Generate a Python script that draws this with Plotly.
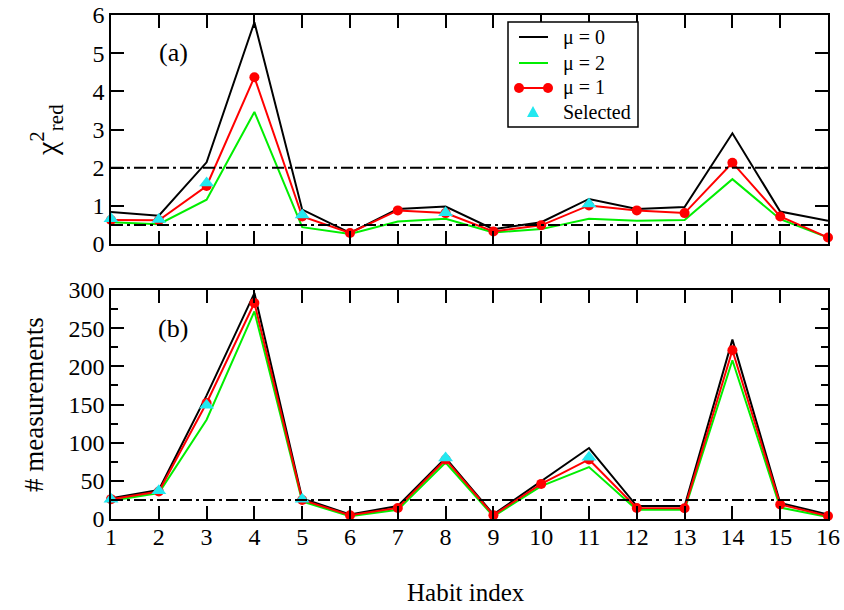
import plotly.graph_objects as go

habit = list(range(1, 17))

# Panel (a): reduced chi-square
chi_mu0 = [0.84, 0.74, 2.14, 5.81, 0.90, 0.29, 0.92, 0.98, 0.39, 0.57, 1.18, 0.92, 0.97, 2.90, 0.85, 0.61]
chi_mu2 = [0.57, 0.52, 1.16, 3.46, 0.44, 0.26, 0.59, 0.66, 0.30, 0.39, 0.66, 0.61, 0.63, 1.70, 0.65, 0.17]
chi_mu1 = [0.63, 0.62, 1.52, 4.37, 0.72, 0.29, 0.88, 0.81, 0.33, 0.49, 1.01, 0.88, 0.81, 2.13, 0.72, 0.17]
sel_idx = [1, 2, 3, 5, 8, 11]
chi_sel = [0.66, 0.64, 1.60, 0.76, 0.82, 1.05]

# Panel (b): number of measurements
n_mu0 = [27, 38, 162, 296, 27, 6, 17, 80, 6, 49, 93, 17, 17, 235, 21, 6]
n_mu2 = [24, 34, 130, 272, 23, 3.5, 12, 74, 3.5, 43, 68, 12, 12, 208, 15, 2.6]
n_mu1 = [26, 36, 152, 283, 25, 5, 14.5, 78, 5, 46, 78, 14.5, 14, 221, 19, 4]
n_sel = [26, 37, 149, 26, 80, 81]

chi_thresholds = [2.0, 0.5]
n_threshold = [25]

legend_labels = ["\u03bc = 0", "\u03bc = 2", "\u03bc = 1", "Selected"]

W, H = 844, 610
FONT = "Liberation Serif, Times New Roman, serif"
BLACK, GREEN, RED, CYAN = "black", "#00ee00", "red", "#22e8f0"

def px(x):
    return x / W

def py(y):
    return 1 - y / H

fig = go.Figure()

def add_panel(xa, ya, y0, y2, y1, ysel):
    fig.add_trace(go.Scatter(x=habit, y=y0, mode="lines", name=legend_labels[0],
                             line=dict(color=BLACK, width=2), xaxis=xa, yaxis=ya,
                             showlegend=False, cliponaxis=False))
    fig.add_trace(go.Scatter(x=habit, y=y2, mode="lines", name=legend_labels[1],
                             line=dict(color=GREEN, width=2), xaxis=xa, yaxis=ya,
                             showlegend=False, cliponaxis=False))
    fig.add_trace(go.Scatter(x=habit, y=y1, mode="lines+markers", name=legend_labels[2],
                             line=dict(color=RED, width=2),
                             marker=dict(color=RED, size=10, symbol="circle"),
                             xaxis=xa, yaxis=ya, showlegend=False, cliponaxis=False))
    fig.add_trace(go.Scatter(x=sel_idx, y=ysel, mode="markers", name=legend_labels[3],
                             marker=dict(color=CYAN, size=13, symbol="triangle-up"),
                             xaxis=xa, yaxis=ya, showlegend=False, cliponaxis=False))

add_panel("x", "y", chi_mu0, chi_mu2, chi_mu1, chi_sel)
add_panel("x2", "y2", n_mu0, n_mu2, n_mu1, n_sel)

dashpat = "12px,4px,3px,4px"
for t in chi_thresholds:
    fig.add_shape(type="line", xref="x", yref="y", x0=1, x1=16, y0=t, y1=t,
                  line=dict(color="black", width=2, dash=dashpat))
for t in n_threshold:
    fig.add_shape(type="line", xref="x2", yref="y2", x0=1, x1=16, y0=t, y1=t,
                  line=dict(color="black", width=2, dash=dashpat))

# Legend box (drawn in paper coordinates, xmgrace style)
fig.add_shape(type="rect", xref="paper", yref="paper",
              x0=px(508), x1=px(638), y0=py(127), y1=py(22),
              line=dict(color="black", width=1.5), fillcolor="white", layer="above")
row_y = [37, 63, 88, 112]
row_col = [BLACK, GREEN, RED]
for yy, col in zip(row_y[:3], row_col):
    fig.add_shape(type="line", xref="paper", yref="paper",
                  x0=px(519), x1=px(548), y0=py(yy), y1=py(yy),
                  line=dict(color=col, width=2), layer="above")
r = 5
for cx in (519, 548):
    fig.add_shape(type="circle", xref="paper", yref="paper",
                  x0=px(cx - r), x1=px(cx + r), y0=py(row_y[2] + r), y1=py(row_y[2] - r),
                  line=dict(color=RED, width=0), fillcolor=RED, layer="above")
tx, ty = 533, row_y[3]
fig.add_shape(type="path", xref="paper", yref="paper",
              path=f"M {px(tx-6)} {py(ty+5)} L {px(tx+6)} {py(ty+5)} L {px(tx)} {py(ty-6)} Z",
              line=dict(color=CYAN, width=0), fillcolor=CYAN, layer="above")
for yy, lab in zip(row_y, legend_labels):
    fig.add_annotation(xref="paper", yref="paper", x=px(561), y=py(yy), text=lab,
                       showarrow=False, xanchor="left", yanchor="middle",
                       font=dict(family=FONT, size=20, color="black"))

xdom = [px(111), px(828)]
axis_common = dict(showline=True, linecolor="black", linewidth=1.5, mirror="allticks",
                   ticks="inside", ticklen=13, tickwidth=1.5, tickcolor="black",
                   showgrid=False, zeroline=False, automargin=False,
                   tickfont=dict(family=FONT, size=24, color="black"))

fig.update_layout(
    width=W, height=H, autosize=False,
    margin=dict(l=0, r=0, t=0, b=0),
    plot_bgcolor="white", paper_bgcolor="white",
    font=dict(family=FONT, color="black"),
    showlegend=False,
    xaxis=dict(domain=xdom, range=[1, 16], tickvals=habit, showticklabels=False,
               anchor="y", **axis_common),
    yaxis=dict(domain=[py(244), py(15)], range=[0, 6], tickvals=[0, 1, 2, 3, 4, 5, 6],
               anchor="x", **axis_common),
    xaxis2=dict(domain=xdom, range=[1, 16], tickvals=habit, anchor="y2",
                ticklabelstandoff=-5, **axis_common),
    yaxis2=dict(domain=[py(519), py(290)], range=[0, 300],
                tickvals=[0, 50, 100, 150, 200, 250, 300], anchor="x2",
                minor=dict(tickvals=[25, 75, 125, 175, 225, 275], ticklen=7,
                           tickwidth=1.5, tickcolor="black", ticks="inside"),
                **axis_common),
)

annots = [
    dict(text="(a)", x=px(173), y=py(52), font=dict(size=26)),
    dict(text="(b)", x=px(173), y=py(328), font=dict(size=26)),
    dict(text="Habit index", x=px(466), y=py(592), font=dict(size=25)),
    dict(text="# measurements", x=px(34), y=py(405), font=dict(size=27), textangle=-90),
    dict(text="\u03c7<sup>2</sup><sub>red</sub>", x=px(46), y=py(130), font=dict(size=30),
         textangle=-90),
]
for a in annots:
    fig.add_annotation(xref="paper", yref="paper", showarrow=False,
                       xanchor="center", yanchor="middle",
                       font_family=FONT, font_color="black",
                       **{k: v for k, v in a.items()})

fig.write_html("out.html", config={"displayModeBar": False},
               post_script="document.body.style.margin='0';document.body.style.overflow='hidden';")
